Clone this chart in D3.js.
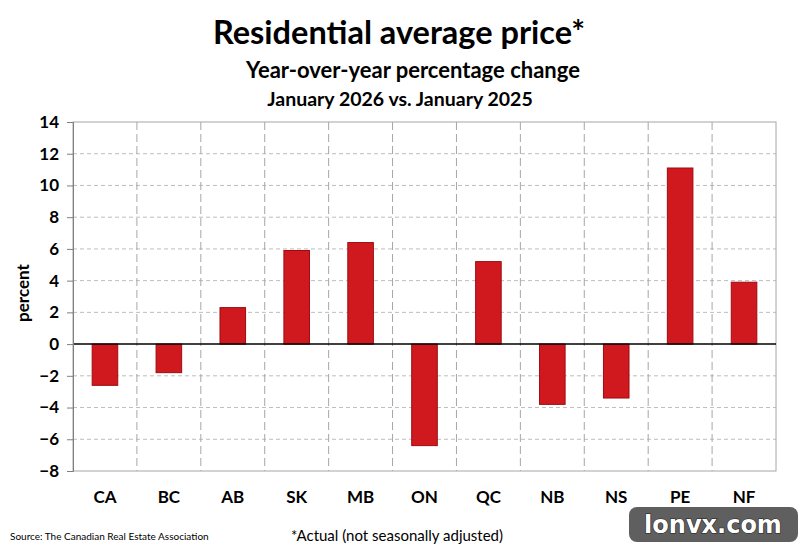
<!DOCTYPE html>
<html>
<head>
<meta charset="utf-8">
<script src="https://cdn.jsdelivr.net/npm/d3@7"></script>
<style>
  body { margin: 0; background: #fff; }
  svg { display: block; }
</style>
</head>
<body>
<div id="chart"></div>
<script>
// Provinces and y/y % change in average price
const provinces = ["CA", "BC", "AB", "SK", "MB", "ON", "QC", "NB", "NS", "PE", "NF"];
const changes = [-2.6, -1.8, 2.3, 5.9, 6.4, -6.4, 5.2, -3.8, -3.4, 11.1, 3.9];
const yTicks = [-8, -6, -4, -2, 0, 2, 4, 6, 8, 10, 12, 14];

const width = 800, height = 548;
const margin = { top: 122, right: 24, bottom: 77, left: 73 };
const font = "Lato, 'Open Sans', sans-serif";

const svg = d3.select("#chart")
  .append("svg")
  .attr("width", width)
  .attr("height", height);

const x = d3.scaleBand()
  .domain(provinces)
  .range([margin.left, width - margin.right])
  .paddingInner(0.6)
  .paddingOuter(0.3);

const y = d3.scaleLinear()
  .domain([-8, 14])
  .range([height - margin.bottom, margin.top]);

const gap = (x.step() - x.bandwidth()) / 2;
const x0 = margin.left, x1 = width - margin.right;

// horizontal grid
svg.append("g")
  .selectAll("line")
  .data(yTicks.filter(d => d !== 0 && d !== 14 && d !== -8))
  .enter().append("line")
  .attr("x1", x0).attr("x2", x1)
  .attr("y1", d => y(d)).attr("y2", d => y(d))
  .attr("stroke", "#bdbdbd")
  .attr("stroke-dasharray", "4,3");

// vertical grid between categories
svg.append("g")
  .selectAll("line")
  .data(provinces.slice(1))
  .enter().append("line")
  .attr("x1", d => x(d) - gap)
  .attr("x2", d => x(d) - gap)
  .attr("y1", y(14)).attr("y2", y(-8))
  .attr("stroke", "#a6a6a6")
  .attr("stroke-dasharray", "8,4");

// plot border
svg.append("rect")
  .attr("x", x0).attr("y", y(14))
  .attr("width", x1 - x0).attr("height", y(-8) - y(14))
  .attr("fill", "none")
  .attr("stroke", "#a6a6a6");

// bars
svg.append("g")
  .selectAll("rect")
  .data(provinces)
  .enter().append("rect")
  .attr("x", d => x(d))
  .attr("width", x.bandwidth())
  .attr("y", (d, i) => y(Math.max(0, changes[i])))
  .attr("height", (d, i) => Math.abs(y(changes[i]) - y(0)))
  .attr("fill", "#d0191f")
  .attr("stroke", "#9e0b0f")
  .attr("stroke-width", 1);

// zero line
svg.append("line")
  .attr("x1", x0).attr("x2", x1)
  .attr("y1", y(0)).attr("y2", y(0))
  .attr("stroke", "#000")
  .attr("stroke-width", 1.5);

// y axis
const yAxis = svg.append("g")
  .attr("transform", `translate(${x0},0)`)
  .call(d3.axisLeft(y).tickValues(yTicks).tickSize(6).tickPadding(8));
yAxis.select(".domain").attr("stroke", "#7f7f7f");
yAxis.selectAll(".tick line").attr("stroke", "#7f7f7f");
yAxis.selectAll("text")
  .style("font-family", font)
  .style("font-size", "17px")
  .style("font-weight", "bold")
  .attr("fill", "#000");

// x labels
svg.append("g")
  .selectAll("text")
  .data(provinces)
  .enter().append("text")
  .attr("x", d => x(d) + x.bandwidth() / 2)
  .attr("y", 503)
  .attr("text-anchor", "middle")
  .style("font-family", font)
  .style("font-size", "17px")
  .style("font-weight", "bold")
  .text(d => d);

// y label
svg.append("text")
  .attr("transform", "translate(29,293) rotate(-90)")
  .attr("text-anchor", "middle")
  .style("font-family", font)
  .style("font-size", "17px")
  .style("font-weight", "bold")
  .text("percent");

// titles
svg.append("text")
  .attr("x", 399).attr("y", 44)
  .attr("text-anchor", "middle")
  .style("font-family", font)
  .style("font-size", "32.5px")
  .style("font-weight", "bold")
  .text("Residential average price*");

svg.append("text")
  .attr("x", 413).attr("y", 78)
  .attr("text-anchor", "middle")
  .style("font-family", font)
  .style("font-size", "22px")
  .style("font-weight", "bold")
  .text("Year-over-year percentage change");

svg.append("text")
  .attr("x", 400).attr("y", 106)
  .attr("text-anchor", "middle")
  .style("font-family", font)
  .style("font-size", "19.5px")
  .style("font-weight", "bold")
  .text("January 2026 vs. January 2025");

// footer
svg.append("text")
  .attr("x", 10).attr("y", 540)
  .style("font-family", font)
  .style("font-size", "10px")
  .text("Source: The Canadian Real Estate Association");

svg.append("text")
  .attr("x", 397).attr("y", 541)
  .attr("text-anchor", "middle")
  .style("font-family", font)
  .style("font-size", "15px")
  .text("*Actual (not seasonally adjusted)");

// watermark
svg.append("rect")
  .attr("x", 629).attr("y", 507)
  .attr("width", 169).attr("height", 35)
  .attr("rx", 8)
  .attr("fill", "#5f5f5f");

svg.append("text")
  .attr("x", 713).attr("y", 533)
  .attr("text-anchor", "middle")
  .style("font-family", "'DejaVu Sans', sans-serif")
  .style("font-size", "24px")
  .style("font-weight", "bold")
  .attr("fill", "#fff")
  .attr("stroke", "#222")
  .attr("stroke-width", 1.2)
  .attr("paint-order", "stroke")
  .text("lonvx.com");
</script>
</body>
</html>
